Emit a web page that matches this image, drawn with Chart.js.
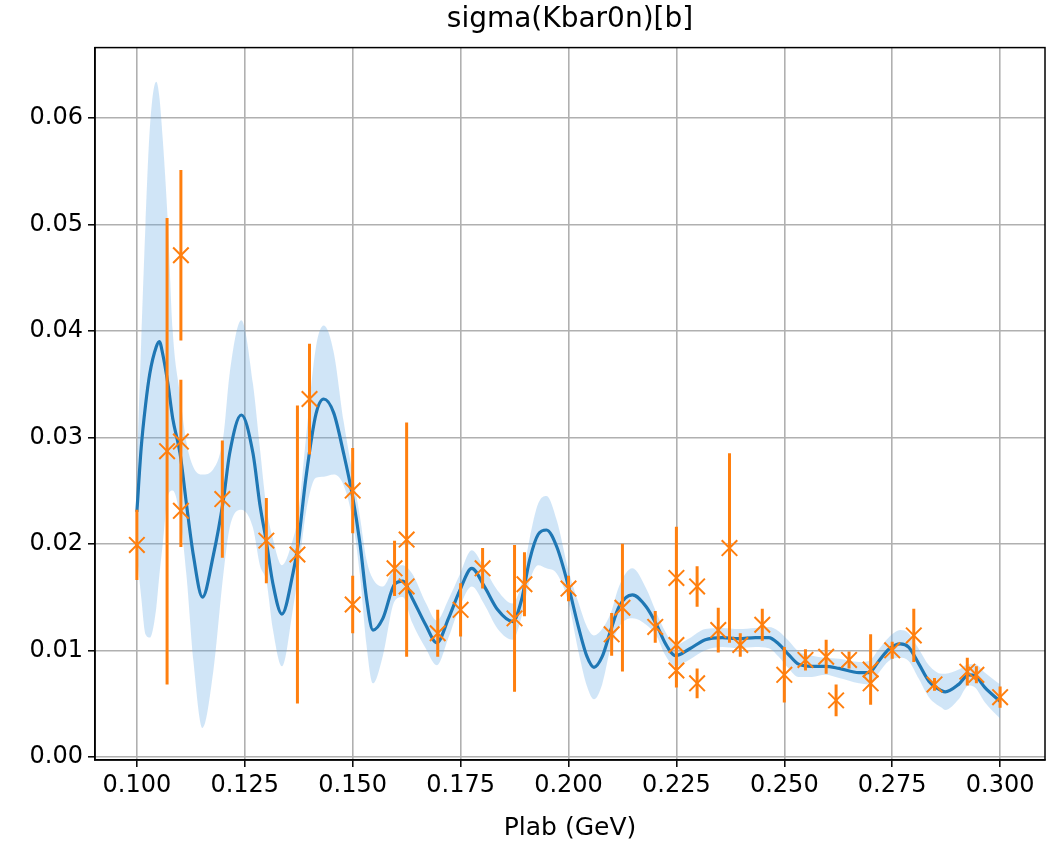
<!DOCTYPE html>
<html>
<head>
<meta charset="utf-8">
<script src="https://cdn.jsdelivr.net/npm/chart.js@4.4.1/dist/chart.umd.min.js"></script>
<style>
  html, body { margin: 0; padding: 0; background: #fff; }
  #wrap { width: 1048px; height: 846px; }
</style>
</head>
<body>
<div id="wrap"><canvas id="chart" width="1048" height="846"></canvas></div>
<script>
/* ===============================
   Data
================================ */
// GP prediction (mean and band edges) sampled along Plab
const gpX = [0.1000, 0.1010, 0.1020, 0.1030, 0.1045, 0.1052, 0.1060, 0.1072, 0.1083, 0.1100,
  0.1115, 0.1131, 0.1152, 0.1177, 0.1200, 0.1215, 0.1242, 0.1269, 0.1285, 0.1300,
  0.1315, 0.1336, 0.1362, 0.1373, 0.1392, 0.1415, 0.1433, 0.1456, 0.1479, 0.1500,
  0.1517, 0.1532, 0.1547, 0.1570, 0.1597, 0.1616, 0.1638, 0.1669, 0.1695, 0.1722,
  0.1748, 0.1776, 0.1805, 0.1836, 0.1871, 0.1891, 0.1910, 0.1930, 0.1949, 0.1973,
  0.2000, 0.2023, 0.2043, 0.2059, 0.2078, 0.2098, 0.2117, 0.2148, 0.2180, 0.2203,
  0.2225, 0.2248, 0.2279, 0.2317, 0.2356, 0.2394, 0.2433, 0.2464, 0.2487, 0.2510,
  0.2533, 0.2564, 0.2595, 0.2627, 0.2673, 0.2696, 0.2719, 0.2742, 0.2769, 0.2788,
  0.2812, 0.2835, 0.2865, 0.2873, 0.2904, 0.2927, 0.2942, 0.2965, 0.3000];
const gpMean = [0.0230, 0.0290, 0.0330, 0.0360, 0.0385, 0.0390, 0.0378, 0.0350, 0.0318, 0.0285,
  0.0237, 0.0189, 0.0150, 0.0189, 0.0240, 0.0285, 0.0321, 0.0285, 0.0237, 0.0202,
  0.0163, 0.0134, 0.0173, 0.0198, 0.0263, 0.0322, 0.0336, 0.0323, 0.0285, 0.0244,
  0.0200, 0.0149, 0.0119, 0.0130, 0.0162, 0.0165, 0.0149, 0.0124, 0.0107, 0.0130,
  0.0156, 0.0177, 0.0160, 0.0138, 0.0127, 0.0147, 0.0185, 0.0209, 0.0213, 0.0197,
  0.0160, 0.0122, 0.0094, 0.0084, 0.0094, 0.0119, 0.0141, 0.0152, 0.0141, 0.0125,
  0.0106, 0.0095, 0.0101, 0.0110, 0.0112, 0.0111, 0.0112, 0.0112, 0.0106, 0.0096,
  0.0087, 0.0085, 0.0085, 0.0083, 0.0079, 0.0079, 0.0090, 0.0101, 0.0106, 0.0103,
  0.0087, 0.0071, 0.0062, 0.0061, 0.0068, 0.0077, 0.0076, 0.0065, 0.0052];
const gpUpper = [0.0270, 0.0390, 0.0500, 0.0590, 0.0634, 0.0620, 0.0580, 0.0500, 0.0400, 0.0340,
  0.0295, 0.0272, 0.0265, 0.0270, 0.0300, 0.0360, 0.0410, 0.0350, 0.0290, 0.0235,
  0.0205, 0.0180, 0.0205, 0.0225, 0.0300, 0.0385, 0.0405, 0.0380, 0.0315, 0.0265,
  0.0225, 0.0185, 0.0167, 0.0160, 0.0178, 0.0180, 0.0172, 0.0145, 0.0128, 0.0148,
  0.0171, 0.0194, 0.0177, 0.0156, 0.0144, 0.0163, 0.0205, 0.0238, 0.0245, 0.0222,
  0.0175, 0.0145, 0.0122, 0.0114, 0.0120, 0.0135, 0.0160, 0.0177, 0.0158, 0.0136,
  0.0117, 0.0105, 0.0111, 0.0120, 0.0121, 0.0120, 0.0121, 0.0122, 0.0118, 0.0109,
  0.0099, 0.0095, 0.0093, 0.0092, 0.0089, 0.0090, 0.0101, 0.0112, 0.0119, 0.0116,
  0.0101, 0.0086, 0.0078, 0.0078, 0.0082, 0.0087, 0.0087, 0.0079, 0.0068];
const gpLower = [0.0190, 0.0150, 0.0115, 0.0112, 0.0140, 0.0170, 0.0200, 0.0245, 0.0250, 0.0225,
  0.0170, 0.0090, 0.0027, 0.0080, 0.0170, 0.0215, 0.0232, 0.0215, 0.0180, 0.0165,
  0.0120, 0.0085, 0.0140, 0.0170, 0.0230, 0.0262, 0.0263, 0.0265, 0.0255, 0.0222,
  0.0170, 0.0105, 0.0069, 0.0095, 0.0146, 0.0150, 0.0126, 0.0102, 0.0086, 0.0112,
  0.0141, 0.0160, 0.0143, 0.0120, 0.0110, 0.0131, 0.0165, 0.0180, 0.0177, 0.0172,
  0.0145, 0.0099, 0.0066, 0.0054, 0.0068, 0.0103, 0.0122, 0.0130, 0.0124, 0.0114,
  0.0095, 0.0085, 0.0091, 0.0100, 0.0103, 0.0102, 0.0103, 0.0102, 0.0094, 0.0083,
  0.0075, 0.0075, 0.0077, 0.0074, 0.0069, 0.0068, 0.0079, 0.0090, 0.0093, 0.0090,
  0.0073, 0.0056, 0.0046, 0.0044, 0.0054, 0.0067, 0.0065, 0.0051, 0.0036];

// measured points with errors
const dataX = [0.1000, 0.1070, 0.1102, 0.1102, 0.1102, 0.1198, 0.1300, 0.1372, 0.1400, 0.1500,
  0.1500, 0.1597, 0.1625, 0.1625, 0.1697, 0.1750, 0.1801, 0.1875, 0.1898, 0.2000,
  0.2100, 0.2125, 0.2201, 0.2250, 0.2250, 0.2250, 0.2298, 0.2298, 0.2347, 0.2373,
  0.2398, 0.2449, 0.2500, 0.2549, 0.2597, 0.2620, 0.2650, 0.2700, 0.2700, 0.2750,
  0.2800, 0.2848, 0.2924, 0.2945, 0.3000];
const dataY = [0.0199, 0.0287, 0.0471, 0.0296, 0.0231, 0.0242, 0.0203, 0.0190, 0.0336, 0.0250,
  0.0143, 0.0177, 0.0204, 0.0160, 0.0116, 0.0138, 0.0177, 0.0130, 0.0162, 0.0158,
  0.0115, 0.0140, 0.0122, 0.0168, 0.0105, 0.0081, 0.0160, 0.0069, 0.0119, 0.0196,
  0.0105, 0.0124, 0.0077, 0.0091, 0.0094, 0.0053, 0.0091, 0.0082, 0.0069, 0.0100,
  0.0114, 0.0068, 0.0080, 0.0077, 0.0056];
const dataErr = [0.0033, 0.0219, 0.0080, 0.0058, 0.0034, 0.0055, 0.0040, 0.0140, 0.0052, 0.0040,
  0.0027, 0.0026, 0.0110, 0.0020, 0.0022, 0.0025, 0.0019, 0.0069, 0.0030, 0.0012,
  0.0020, 0.0060, 0.0015, 0.0048, 0.0040, 0.0012, 0.0019, 0.0014, 0.0021, 0.0089,
  0.0011, 0.0015, 0.0026, 0.0010, 0.0016, 0.0015, 0.0008, 0.0033, 0.0012, 0.0008,
  0.0025, 0.0006, 0.0013, 0.0008, 0.0010];

const xTicks = [0.100, 0.125, 0.150, 0.175, 0.200, 0.225, 0.250, 0.275, 0.300];
const yTicks = [0.00, 0.01, 0.02, 0.03, 0.04, 0.05, 0.06];

/* ===============================
   Build datasets
================================ */
const pts = (xs, ys) => xs.map((x, i) => ({ x: x, y: ys[i] }));

const errSegments = [];
dataX.forEach((x, i) => {
  errSegments.push({ x: x, y: dataY[i] - dataErr[i] });
  errSegments.push({ x: x, y: dataY[i] + dataErr[i] });
  errSegments.push({ x: x, y: null });
});

// matplotlib-like closed box round the plot area
const frame = {
  id: "frame",
  afterDraw(chart) {
    const a = chart.chartArea, ctx = chart.ctx;
    ctx.save();
    ctx.strokeStyle = "#000";
    ctx.lineWidth = 1.5;
    ctx.strokeRect(a.left, a.top, a.right - a.left, a.bottom - a.top);
    ctx.restore();
  }
};

const fam = "'DejaVu Sans', sans-serif";
const tickFont = { family: fam, size: 24 };

new Chart(document.getElementById("chart"), {
  type: "line",
  data: {
    datasets: [
      {
        label: "data",
        data: pts(dataX, dataY),
        showLine: false,
        pointStyle: "crossRot",
        pointRadius: 11,
        pointBorderWidth: 2,
        pointBorderColor: "#ff7f0e",
        order: 0
      },
      {
        label: "errors",
        data: errSegments,
        borderColor: "#ff7f0e",
        borderWidth: 3,
        pointRadius: 0,
        spanGaps: false,
        order: 1
      },
      {
        label: "mean",
        data: pts(gpX, gpMean),
        borderColor: "#1f77b4",
        borderWidth: 3.2,
        pointRadius: 0,
        cubicInterpolationMode: "monotone",
        order: 2
      },
      {
        label: "upper",
        data: pts(gpX, gpUpper),
        borderWidth: 0,
        borderColor: "rgba(0,0,0,0)",
        pointRadius: 0,
        cubicInterpolationMode: "monotone",
        fill: "+1",
        backgroundColor: "rgba(100,170,230,0.3)",
        order: 3
      },
      {
        label: "lower",
        data: pts(gpX, gpLower),
        borderWidth: 0,
        borderColor: "rgba(0,0,0,0)",
        pointRadius: 0,
        cubicInterpolationMode: "monotone",
        order: 4
      }
    ]
  },
  options: {
    responsive: false,
    animation: false,
    layout: { autoPadding: false, padding: { left: 0, right: 3, top: 0, bottom: 0 } },
    plugins: {
      legend: { display: false },
      tooltip: { enabled: false },
      title: {
        display: true,
        text: "sigma(Kbar0n)[b]",
        fullSize: false,
        color: "#000",
        font: { family: fam, size: 28, weight: "normal" },
        padding: { top: 3, bottom: 11 }
      }
    },
    scales: {
      x: {
        type: "linear",
        min: 0.0903,
        max: 0.3104,
        afterBuildTicks(scale) { scale.ticks = xTicks.map(v => ({ value: v })); },
        afterFit(scale) {
          scale.height = 86;
          scale.paddingLeft = 0;
          scale.paddingRight = 0;
        },
        ticks: {
          color: "#000",
          font: tickFont,
          padding: 4,
          maxRotation: 0,
          autoSkip: false,
          callback: v => v.toFixed(3)
        },
        grid: { color: "#b0b0b0", lineWidth: 1.6, tickLength: 7, tickColor: "#000", tickWidth: 1.5 },
        border: { color: "#000", width: 1.5 },
        title: {
          display: true,
          text: "Plab (GeV)",
          color: "#000",
          font: { family: fam, size: 25 },
          padding: { top: 2, bottom: 3 }
        }
      },
      y: {
        type: "linear",
        min: -0.0003,
        max: 0.0666,
        afterBuildTicks(scale) { scale.ticks = yTicks.map(v => ({ value: v })); },
        afterFit(scale) { scale.width = 95; },
        ticks: {
          color: "#000",
          font: tickFont,
          padding: 5,
          autoSkip: false,
          callback: v => v.toFixed(2)
        },
        grid: { color: "#b0b0b0", lineWidth: 1.6, tickLength: 7, tickColor: "#000", tickWidth: 1.5 },
        border: { color: "#000", width: 1.5 }
      }
    }
  },
  plugins: [frame]
});
</script>
</body>
</html>
